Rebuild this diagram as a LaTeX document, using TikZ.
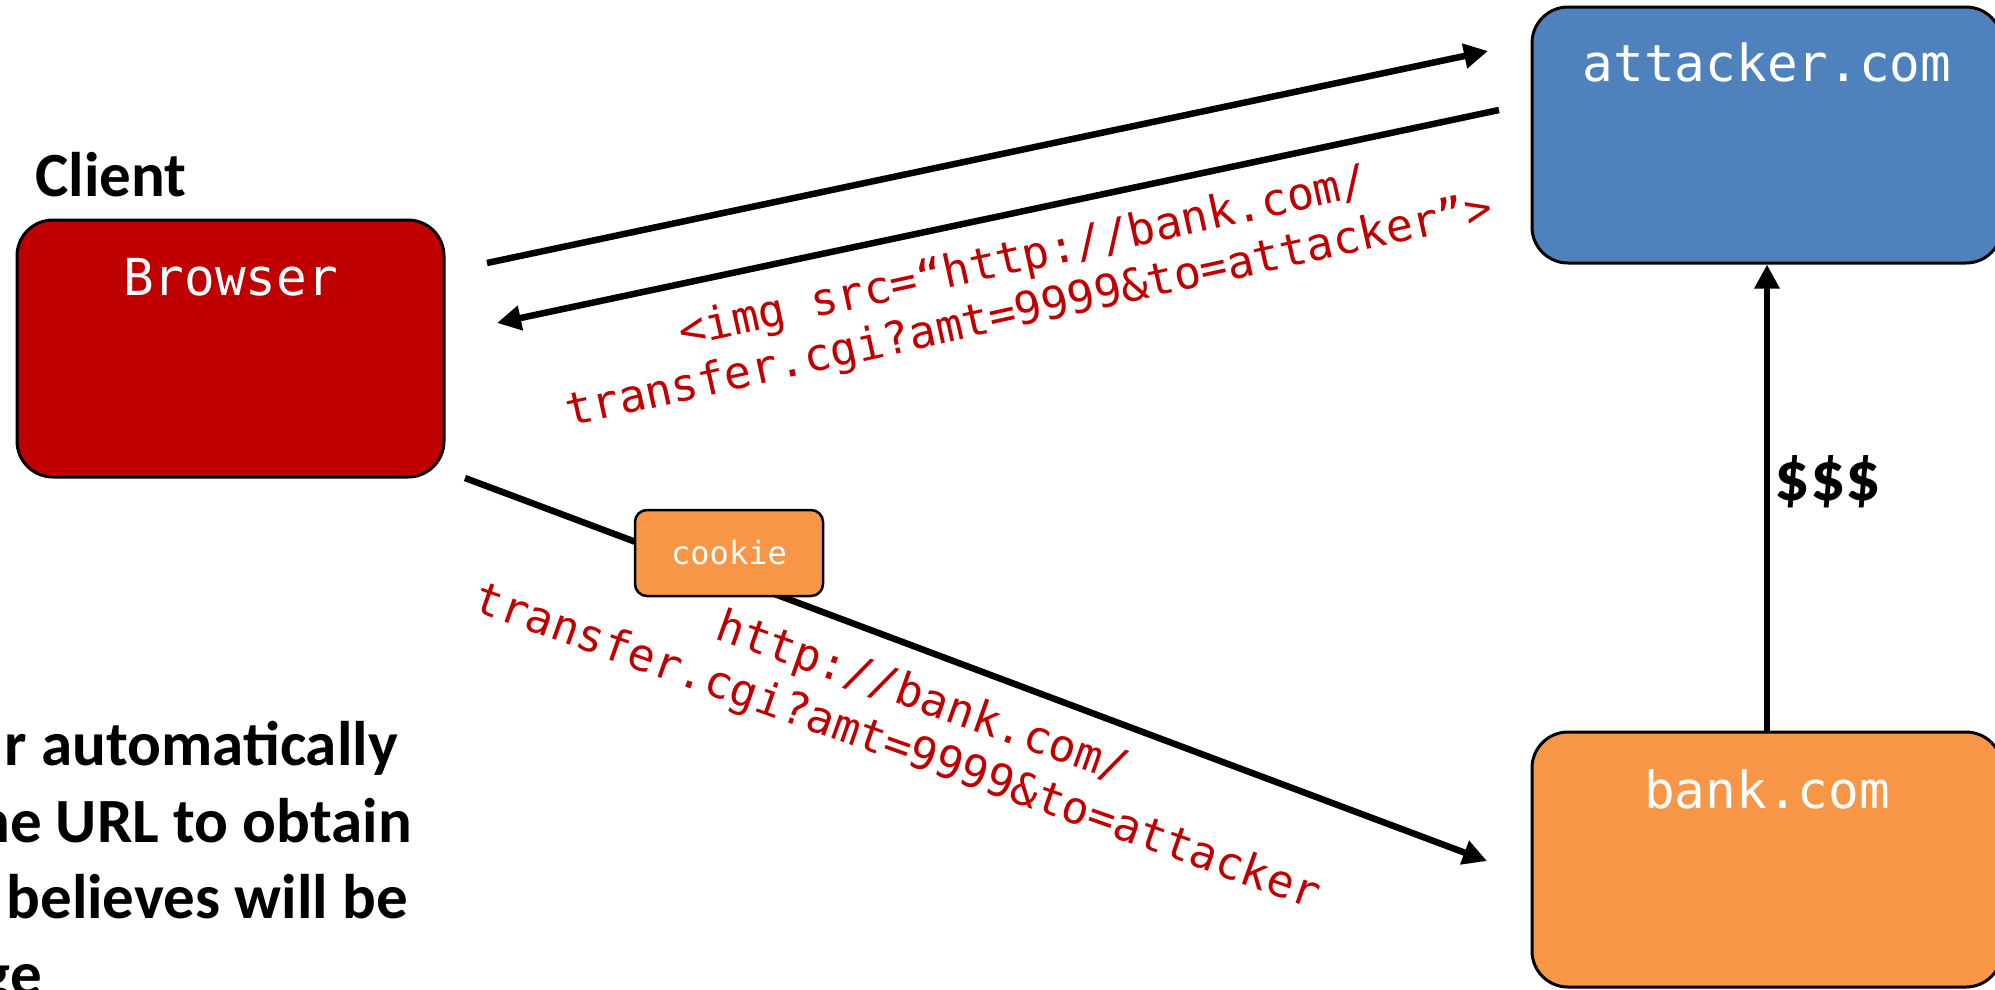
\documentclass[tikz,border=0pt]{standalone}
\usepackage{fontspec}
\usetikzlibrary{arrows.meta}
\newfontfamily\dvmono{DejaVu Sans Mono}
\newfontfamily\calibfont{Carlito}
\definecolor{brred}{HTML}{C00000}
\definecolor{atkblue}{HTML}{4F81BD}
\definecolor{bankorange}{HTML}{F79646}
\begin{document}
\begin{tikzpicture}[x=1pt,y=-1pt,
  box/.style={draw=black, line width=3pt, rounded corners=36pt, inner sep=0pt},
  boxtext/.style={anchor=base, inner sep=0pt, text=white, font=\dvmono\fontsize{51}{61}\selectfont},
  redtext/.style={inner sep=0pt, anchor=base, text=brred, font=\dvmono\fontsize{45}{54}\selectfont},
  heading/.style={inner sep=0pt, font=\calibfont\bfseries\fontsize{63}{76}\selectfont},
  conn/.style={line width=6.5pt, -{Triangle[length=24pt,width=24pt]}},
]
\useasboundingbox (0,0) rectangle (1995,989);
\clip (0,0) rectangle (1995,989);

% boxes
\node[box, fill=brred, minimum width=427pt, minimum height=257pt] (browser) at (230.5,348.5) {};
\node[boxtext] (browsertxt) at ([yshift=-77pt]browser.north) {Browser};
\node[box, fill=atkblue, minimum width=470pt, minimum height=256pt] (attacker) at (1767,135) {};
\node[boxtext] (attackertxt) at ([yshift=-76pt]attacker.north) {attacker.com};
\node[box, fill=bankorange, minimum width=470pt, minimum height=255pt] (bank) at (1767,859.5) {};
\node[boxtext] (banktxt) at ([yshift=-78pt]bank.north) {bank.com};

% headings
\node[heading, anchor=base west] (client) at (35,196) {Client};
\node[heading, anchor=center, font=\calibfont\bfseries\fontsize{70}{84}\selectfont] (money) at (1828,482) {\$\$\$};
\node[heading, anchor=base east] (note1) at (398,765) {r automatically};
\node[heading, anchor=base east] (note2) at (412,842) {he URL to obtain};
\node[heading, anchor=base east] (note3) at (408,918) {believes will be};
\node[heading, anchor=base east] (note4) at (42,995) {ge};

% connector end points
\coordinate (reqS) at (487,263);
\coordinate (reqE) at (1488,51);
\coordinate (respS) at (1499,110);
\coordinate (respE) at (497,323);
\coordinate (xferS) at (465,478);
\coordinate (xferE) at (1487,861);

\draw[conn] (reqS) -- (reqE);
\draw[conn] (respS) -- (respE);
\draw[conn] (xferS) -- (xferE);
\draw[conn] (bank.north) -- (attacker.south);

% cookie
\node[draw=black, line width=2.5pt, fill=bankorange, rounded corners=12pt, minimum width=188pt, minimum height=86pt, inner sep=0pt, text=white, font=\dvmono\fontsize{32}{38}\selectfont] (cookie) at (729,553) {cookie};

% red labels
\node[redtext, rotate=12.5] (img1) at (1026,271) {<img src=“http://bank.com/};
\node[redtext, rotate=12.5] (img2) at (1032,324) {transfer.cgi?amt=9999\&to=attacker”>};
\node[redtext, rotate=-19.5] (url1) at (918,711) {http://bank.com/};
\node[redtext, rotate=-19.5] (url2) at (893,760) {transfer.cgi?amt=9999\&to=attacker};
\end{tikzpicture}
\end{document}
